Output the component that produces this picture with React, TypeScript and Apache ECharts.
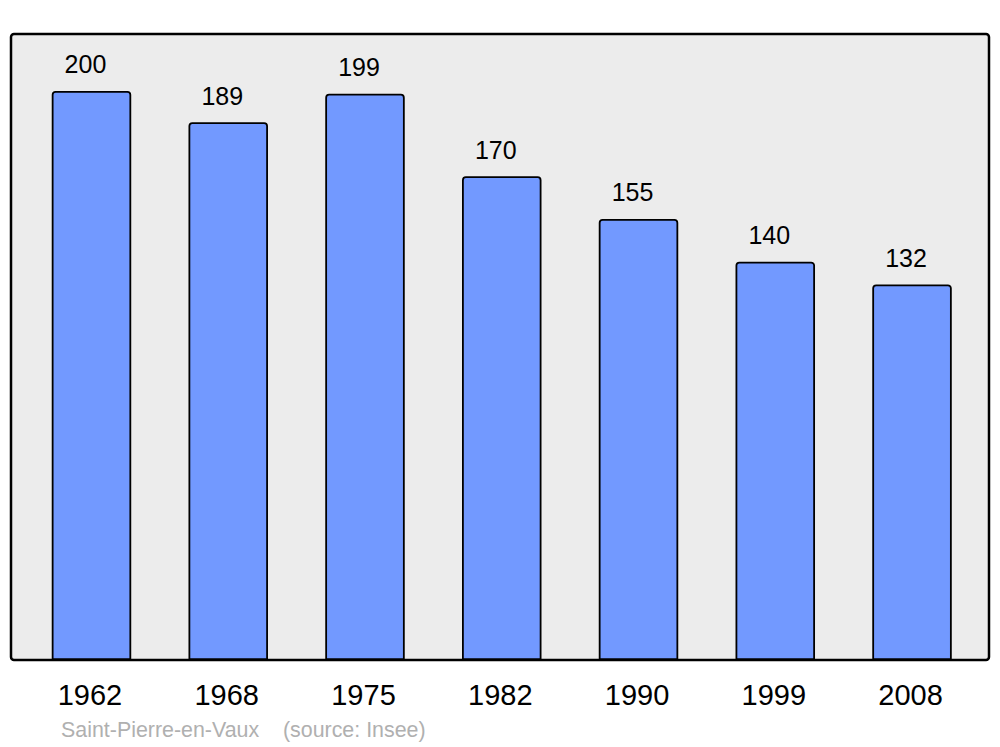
import React, { useEffect, useRef } from "react";
import * as echarts from "echarts";

const years = ["1962", "1968", "1975", "1982", "1990", "1999", "2008"];
const population = [200, 189, 199, 170, 155, 140, 132];
const sourceText = "Saint-Pierre-en-Vaux    (source: Insee)";

export default function App() {
  const ref = useRef<HTMLDivElement>(null);
  useEffect(() => {
    if (!ref.current) return;
    const chart = echarts.init(ref.current, null, { renderer: "svg" });
    chart.setOption({
      animation: false,
      graphic: [
        {
          type: "rect",
          z: -10,
          shape: { x: 11, y: 34, width: 978, height: 626, r: 3 },
          style: { fill: "#ececec", stroke: "#000", lineWidth: 2.5 },
        },
        {
          type: "text",
          x: 61,
          y: 730,
          style: {
            text: sourceText,
            fill: "#b0b0b0",
            font: '21.4px "Liberation Sans", Arial, sans-serif',
            textVerticalAlign: "middle",
          },
        },
      ],
      grid: { left: 23.1, right: 19.6, top: 34, bottom: 87 },
      xAxis: {
        type: "category",
        data: years,
        axisLine: { show: false },
        axisTick: { show: false },
        axisLabel: {
          color: "#000",
          fontSize: 29,
          fontFamily: "Liberation Sans",
          margin: 20,
          padding: [0, 3, 0, 0],
        },
      },
      yAxis: {
        type: "value",
        min: 0,
        max: 220,
        show: false,
        splitLine: { show: false },
      },
      series: [
        {
          type: "bar",
          data: population,
          barWidth: 79.5,
          itemStyle: {
            color: "#7299ff",
            borderColor: "#000",
            borderWidth: 1.8,
            borderRadius: [3, 3, 0, 0],
          },
          label: {
            show: true,
            position: "top",
            distance: 14,
            offset: [-6, 0],
            color: "#000",
            fontSize: 25,
            fontFamily: "Liberation Sans",
          },
        },
      ],
    });
    return () => chart.dispose();
  }, []);
  return <div ref={ref} style={{ width: 1000, height: 747, position: "absolute", left: 0, top: 0 }} />;
}
